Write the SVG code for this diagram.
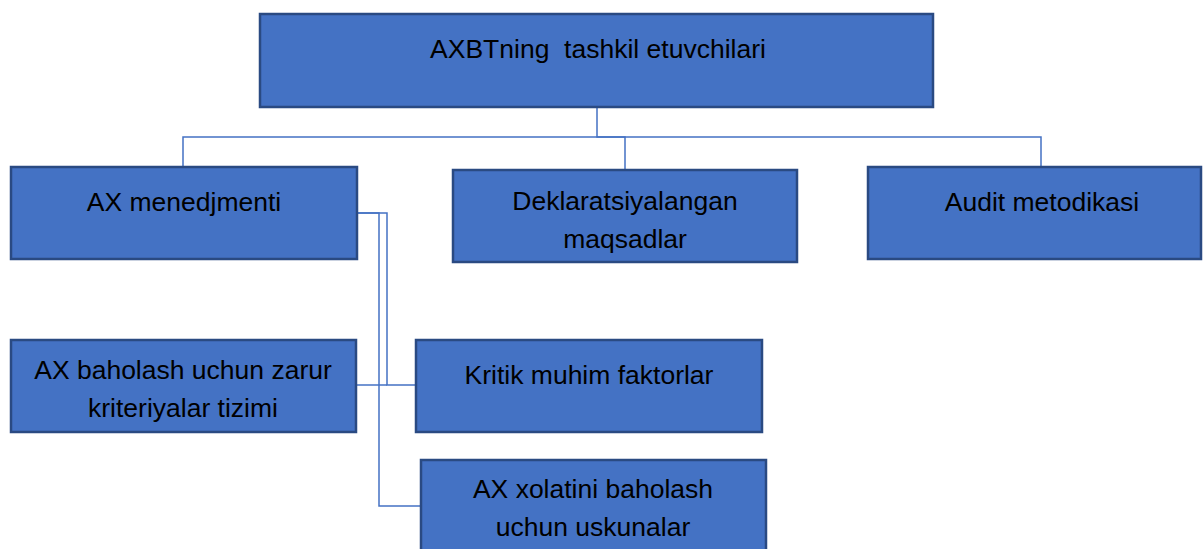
<svg xmlns="http://www.w3.org/2000/svg" width="1203" height="549" viewBox="0 0 1203 549">
<style>
.box{fill:#4472C4;stroke:#2A4A82;stroke-width:2.5}
.lbl{font-family:"Liberation Sans",Arial,sans-serif;font-size:26.5px;fill:#000;text-anchor:middle}
.con{fill:none;stroke:#4472C4;stroke-width:1.5}
</style>
<rect width="1203" height="549" fill="#fff"/>
<g id="connectors">
<path class="con" d="M597,107 V137 H625 V169"/>
<path class="con" d="M183,167 V137 H1041 V167"/>
<path class="con" d="M357,213 H387 V385 H416"/>
<path class="con" d="M357,213 H379 V506 H421"/>
<path class="con" d="M357,385 H387"/>
</g>
<g id="root">
<rect class="box" x="260" y="14" width="673" height="93"/>
<text class="lbl" x="598" y="58" xml:space="preserve">AXBTning  tashkil etuvchilari</text>
</g>
<g id="ax-menedjmenti">
<rect class="box" x="11" y="167" width="346" height="92"/>
<text class="lbl" x="184" y="211">AX menedjmenti</text>
</g>
<g id="deklaratsiyalangan">
<rect class="box" x="453" y="170" width="344" height="92"/>
<text class="lbl" x="625" y="210">Deklaratsiyalangan</text>
<text class="lbl" x="625" y="248">maqsadlar</text>
</g>
<g id="audit-metodikasi">
<rect class="box" x="868" y="167" width="333" height="92"/>
<text class="lbl" x="1042" y="211">Audit metodikasi</text>
</g>
<g id="kriteriyalar">
<rect class="box" x="11" y="340" width="345" height="92"/>
<text class="lbl" x="183" y="379">AX baholash uchun zarur</text>
<text class="lbl" x="183" y="417">kriteriyalar tizimi</text>
</g>
<g id="kritik-faktorlar">
<rect class="box" x="416" y="340" width="346" height="92"/>
<text class="lbl" x="589" y="384">Kritik muhim faktorlar</text>
</g>
<g id="uskunalar">
<rect class="box" x="421" y="460" width="345" height="95"/>
<text class="lbl" x="593" y="498">AX xolatini baholash</text>
<text class="lbl" x="593" y="536">uchun uskunalar</text>
</g>
</svg>
